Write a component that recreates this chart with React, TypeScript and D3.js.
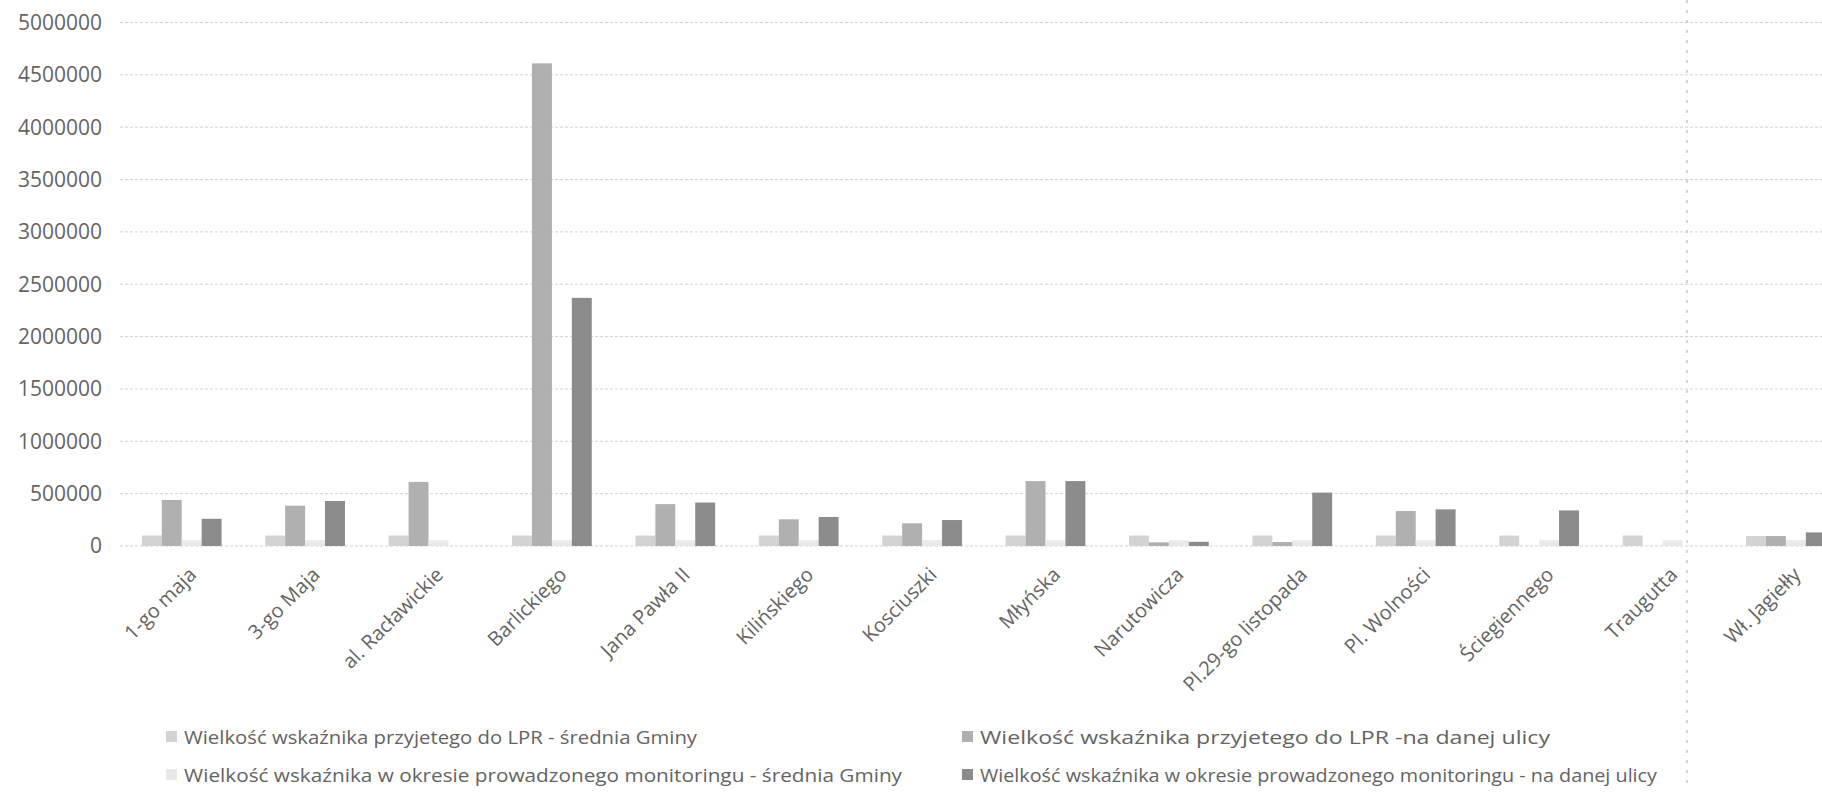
import React from "react";
import * as d3 from "d3";

const categories = [
  "1-go maja",
  "3-go Maja",
  "al. Racławickie",
  "Barlickiego",
  "Jana Pawła II",
  "Kilińskiego",
  "Kosciuszki",
  "Młyńska",
  "Narutowicza",
  "Pl.29-go listopada",
  "Pl. Wolności",
  "Ściegiennego",
  "Traugutta",
  "Wł. Jagiełły",
];

const seriesNames = [
  "Wielkość wskaźnika przyjetego do LPR - średnia Gminy",
  "Wielkość wskaźnika przyjetego do LPR -na danej ulicy",
  "Wielkość wskaźnika w okresie prowadzonego monitoringu - średnia Gminy",
  "Wielkość wskaźnika w okresie prowadzonego monitoringu - na danej ulicy",
];

const lprGmina = [100000, 100000, 100000, 100000, 100000, 100000, 100000, 100000, 100000, 100000, 100000, 100000, 100000, 95000];
const lprUlica = [440000, 385000, 612000, 4610000, 400000, 255000, 217000, 620000, 35000, 38000, 334000, 0, 0, 95000];
const monGmina = [55000, 55000, 55000, 55000, 55000, 55000, 55000, 55000, 55000, 55000, 55000, 55000, 55000, 55000];
const monUlica = [260000, 430000, 0, 2370000, 415000, 277000, 248000, 620000, 40000, 510000, 350000, 340000, 0, 130000];

const yTickValues = [0, 500000, 1000000, 1500000, 2000000, 2500000, 3000000, 3500000, 4000000, 4500000, 5000000];

const seriesValues = [lprGmina, lprUlica, monGmina, monUlica];
const seriesColors = ["#d3d3d3", "#b0b0b0", "#e9e9e9", "#8c8c8c"];

const W = 1822;
const H = 805;
const plotLeft = 120;
const step = 123.4;
const plotRight = plotLeft + step * categories.length;
const baseY = 546;
const topY = 22.5;

export default function App() {
  const x0 = d3.scaleBand<string>().domain(categories).range([plotLeft, plotRight]).padding(0);
  const groupW = (x0.bandwidth() * 4) / (4 + 2.19);
  const x1 = d3.scaleBand<number>().domain([0, 1, 2, 3]).range([0, groupW]).padding(0);
  const y = d3.scaleLinear().domain([0, 5000000]).range([baseY, topY]);
  const fmt = d3.format("d");
  const textColor = "#646464";
  const font = "'Open Sans', 'Liberation Sans', sans-serif";

  const legendItems = [
    { x: 166, y: 737, w: 531 },
    { x: 962, y: 737, w: 588 },
    { x: 166, y: 775, w: 736 },
    { x: 962, y: 775, w: 695 },
  ];

  return (
    <svg
      width={W}
      height={H}
      style={{ position: "absolute", left: 0, top: 0, background: "#fff" }}
      fontFamily={font}
    >
      <rect x={0} y={0} width={W} height={H} fill="#fff" />
      {yTickValues.map((t) => (
        <line
          key={"g" + t}
          x1={plotLeft}
          x2={W}
          y1={y(t)}
          y2={y(t)}
          stroke="#d2d2d2"
          strokeWidth={1}
          strokeDasharray="3 2"
        />
      ))}
      {yTickValues.map((t) => (
        <text
          key={"t" + t}
          x={102}
          y={y(t)}
          dy="0.35em"
          textAnchor="end"
          fontSize={21}
          fill={textColor}
        >
          {fmt(t)}
        </text>
      ))}
      {categories.map((c, i) => (
        <g key={c} transform={`translate(${(x0(c) as number) + (x0.bandwidth() - groupW) / 2},0)`}>
          {seriesValues.map((vals, s) =>
            vals[i] > 0 ? (
              <rect
                key={s}
                x={x1(s) as number}
                y={y(vals[i])}
                width={x1.bandwidth()}
                height={baseY - y(vals[i])}
                fill={seriesColors[s]}
              />
            ) : null
          )}
        </g>
      ))}
      {categories.map((c) => {
        const cx = (x0(c) as number) + x0.bandwidth() / 2 + 16;
        const cy = 576;
        return (
          <text
            key={"l" + c}
            transform={`translate(${cx},${cy}) rotate(-45)`}
            textAnchor="end"
            fontSize={20}
            fill={textColor}
          >
            {c}
          </text>
        );
      })}
      <line x1={1687} x2={1687} y1={0} y2={790} stroke="#c9c9c9" strokeWidth={1.5} strokeDasharray="3 7" />
      {seriesNames.map((n, i) => (
        <g key={"lg" + i}>
          <rect x={legendItems[i].x} y={legendItems[i].y - 6} width={11} height={11} fill={seriesColors[i]} />
          <text
            x={legendItems[i].x + 18}
            y={legendItems[i].y}
            dy="0.35em"
            fontSize={19}
            fill={textColor}
            textLength={legendItems[i].w - 18}
            lengthAdjust="spacingAndGlyphs"
          >
            {n}
          </text>
        </g>
      ))}
    </svg>
  );
}
